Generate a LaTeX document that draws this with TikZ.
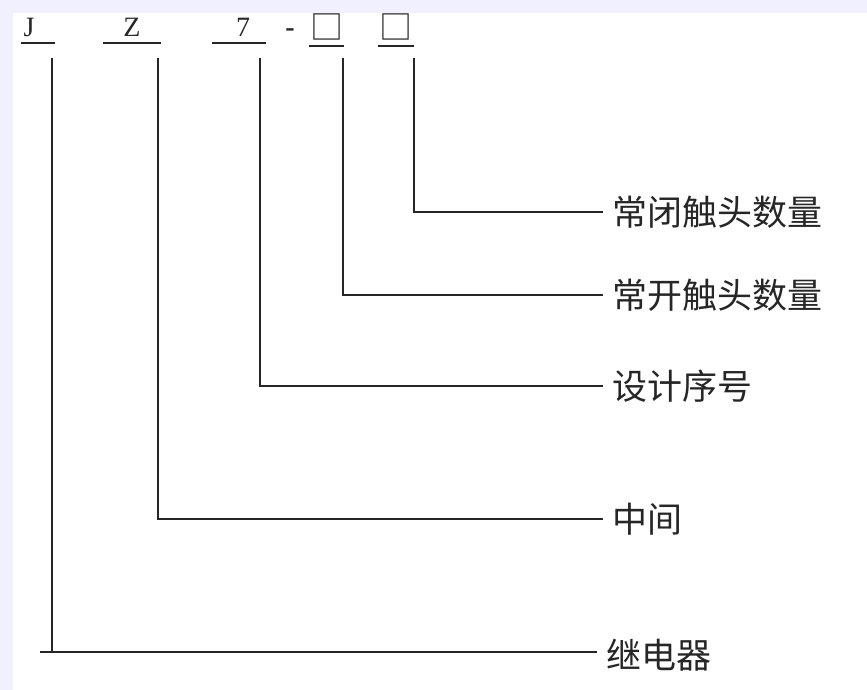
\documentclass[tikz,border=0pt]{standalone}
\usepackage{fontspec}
\setmainfont{Liberation Serif}
\newfontfamily\cjk{Noto Sans CJK SC}
\begin{document}
\begin{tikzpicture}[x=1pt,y=-1pt,
  ln/.style={line width=1.6pt,draw=black!85},
  ul/.style={line width=1.4pt,draw=black!85},
  top/.style={inner sep=0pt,font=\fontsize{28}{30}\selectfont,anchor=base,text=black!85},
  box/.style={inner sep=0pt,font=\cjk\fontsize{33}{35}\selectfont,anchor=center,text=black!85},
  lbl/.style={anchor=west,inner xsep=9pt,inner ysep=0pt,font=\cjk\fontsize{35}{38}\selectfont,text=black!85}]
\useasboundingbox (0,0) rectangle (867,690);
\fill[white] (0,0) rectangle (867,690);
\fill[blue!6] (0,0) rectangle (867,13);
\fill[blue!6] (0,0) rectangle (13,690);
% top code
\node[top] (tJ) at (29,37) {J};
\node[top] (tZ) at (132,37) {Z};
\node[top] (t7) at (243,37) {7};
\node[top] (tdash) at (290,37) {\textbf{-}};
\node[box] (b1) at (327,27) {□};
\node[box] (b2) at (396,27) {□};
\draw[ul] (21,43) -- (55,43);
\draw[ul] (103,43) -- (161,43);
\draw[ul] (212,43) -- (266,43);
\draw[ul] (309,46) -- (344,46);
\draw[ul] (378,46) -- (414,46);
% labels
\node[lbl] (l1) at (603,212) {常闭触头数量};
\node[lbl] (l2) at (603,295) {常开触头数量};
\node[lbl] (l3) at (603,386) {设计序号};
\node[lbl] (l4) at (603,519) {中间};
\node[lbl] (l5) at (597,655) {继电器};
% connectors
\coordinate (c1) at (414,58);
\coordinate (c2) at (343,58);
\coordinate (c3) at (260,58);
\coordinate (c4) at (158,58);
\coordinate (c5) at (52,58);
\coordinate (c5b) at (52,652);
\coordinate (c5s) at (40,652);
\draw[ln] (c1) |- (l1.west);
\draw[ln] (c2) |- (l2.west);
\draw[ln] (c3) |- (l3.west);
\draw[ln] (c4) |- (l4.west);
\draw[ln] (c5) -- (c5b);
\draw[ln] (c5s) -- (c5s -| l5.west);
\end{tikzpicture}
\end{document}
